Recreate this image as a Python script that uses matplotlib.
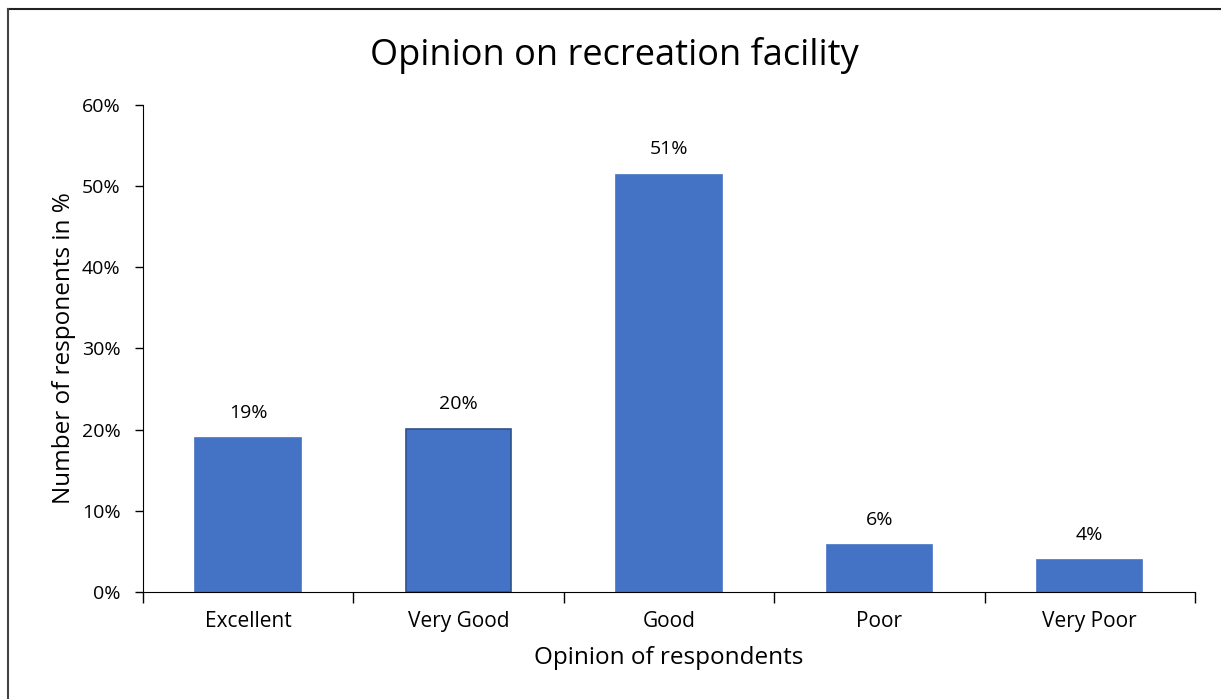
import matplotlib
matplotlib.use("Agg")
import matplotlib.pyplot as plt
from matplotlib.lines import Line2D
from matplotlib.ticker import PercentFormatter

plt.rcParams['font.family'] = ['Open Sans', 'DejaVu Sans']

categories = ["Excellent", "Very Good", "Good", "Poor", "Very Poor"]
values = [19.0, 20.1, 51.4, 5.8, 3.9]
labels = ["19%", "20%", "51%", "6%", "4%"]
edges = ["#4472C4", "#2F528F", "#4472C4", "#4472C4", "#4472C4"]

fig = plt.figure(figsize=(12.21, 6.99), dpi=100)
ax = fig.add_axes([0.117, 0.153, 0.8617, 0.697])

x = range(len(categories))
bars = ax.bar(x, values, width=0.5, color="#4472C4", edgecolor=edges, linewidth=1.2)
for b, lab in zip(bars, labels):
    ax.text(b.get_x() + b.get_width() / 2, b.get_height() + 2.0, lab,
            ha="center", va="bottom", fontsize=14)

ax.set_xlim(-0.5, len(categories) - 0.5)
ax.set_ylim(0, 60)
ax.set_yticks(range(0, 61, 10))
ax.yaxis.set_major_formatter(PercentFormatter(decimals=0))
ax.set_xticks(list(x))
ax.set_xticklabels(categories, fontsize=15)
ax.set_xticks([i - 0.5 for i in range(len(categories) + 1)], minor=True)
ax.tick_params(axis="x", which="major", length=0, pad=14)
ax.tick_params(axis="x", which="minor", length=8, width=1)
ax.tick_params(axis="y", labelsize=14, length=6, width=1, pad=10)
for s in ["top", "right"]:
    ax.spines[s].set_visible(False)
ax.set_xlabel("Opinion of respondents", fontsize=17.5, labelpad=10)
ax.set_ylabel("Number of responents in %", fontsize=17.5, labelpad=4)

fig.text(0.503, 0.921, "Opinion on recreation facility", ha="center", va="center", fontsize=26)

# chart frame
fig.add_artist(Line2D([8 / 1221, 1], [1 - 9 / 699, 1 - 9 / 699], color="#222222", lw=1.5))
fig.add_artist(Line2D([8 / 1221, 8 / 1221], [0, 1 - 9 / 699], color="#444444", lw=1.5))

fig.savefig("out.png", dpi=100)
